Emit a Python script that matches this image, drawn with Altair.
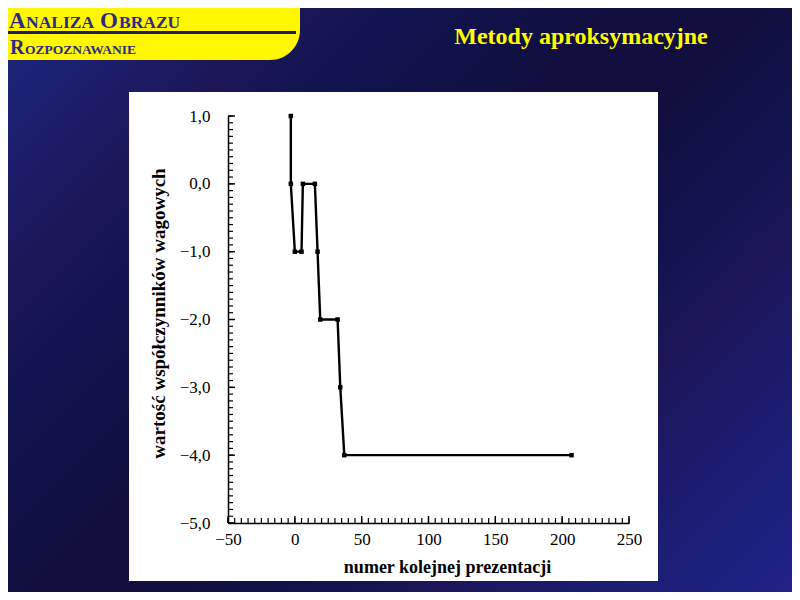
import altair as alt
import pandas as pd

# ---- data ----
x_vals = [-3, -3, 0, 5, 6, 15, 17, 19, 32, 34, 37, 207]
y_vals = [1.0, 0.0, -1.0, -1.0, 0.0, 0.0, -1.0, -2.0, -2.0, -3.0, -4.0, -4.0]
x_label_values = [-50, 0, 50, 100, 150, 200, 250]
y_label_values = [1, 0, -1, -2, -3, -4, -5]
x_minor_ticks = list(range(-50, 251, 5))
y_minor_ticks = [v / 10 for v in range(-50, 11)]

slide_title = "Metody aproksymacyjne"
x_title = "numer kolejnej prezentacji"
y_title = "wartość współczynników wagowych"

df = pd.DataFrame({"x": x_vals, "y": y_vals, "i": list(range(len(x_vals)))})
xt_df = pd.DataFrame({"x": x_minor_ticks})
xT_df = pd.DataFrame({"x": x_label_values})
yt_df = pd.DataFrame({"y": y_minor_ticks})
yT_df = pd.DataFrame({"y": y_label_values})

# ---- layout (page pixels) ----
OX, OY = 228, 116          # plot origin on the page
W, H = 401, 407
PAD = {"left": OX - 8, "top": OY - 8, "right": 784 - (OX - 8) - W, "bottom": 584 - (OY - 8) - H}
SERIF = "Liberation Serif"
NAVY_TXT = "#2b2b85"

one = alt.Data(values=[{"a": 1}])
xs = alt.Scale(domain=[-50, 250], nice=False, zero=False)
ys = alt.Scale(domain=[-5, 1], nice=False, zero=False)


def rect(x1, x2, y1, y2, **kw):
    return alt.Chart(one).mark_rect(**kw).encode(
        x=alt.value(x1 - OX), x2=alt.value(x2 - OX),
        y=alt.value(y1 - OY), y2=alt.value(y2 - OY))


def text(t, px, py, size, color, align="left"):
    return alt.Chart(one).mark_text(
        text=t, font=SERIF, fontSize=size, fontWeight="bold", color=color,
        align=align, baseline="alphabetic").encode(
        x=alt.value(px - OX), y=alt.value(py - OY))


grad = alt.Gradient(
    gradient="linear", x1=0, y1=0, x2=1.12, y2=0.84,
    stops=[
        alt.GradientStop(offset=0.0, color="#1b2a80"),
        alt.GradientStop(offset=0.1, color="#1c2070"),
        alt.GradientStop(offset=0.21, color="#1c1658"),
        alt.GradientStop(offset=0.3, color="#111350"),
        alt.GradientStop(offset=0.45, color="#120f3e"),
        alt.GradientStop(offset=0.55, color="#120f3e"),
        alt.GradientStop(offset=0.65, color="#11134f"),
        alt.GradientStop(offset=0.73, color="#1c1658"),
        alt.GradientStop(offset=0.87, color="#1c1e75"),
        alt.GradientStop(offset=0.95, color="#1c2182"),
        alt.GradientStop(offset=1.0, color="#2a2088"),
    ])

bg = rect(0, 800, 0, 600, fill=grad)
banner = rect(0, 300, 0, 60, fill="#fff600", cornerRadiusBottomRight=55)
banner_line = rect(0, 296, 31, 34, fill="#1c1c6c")
white_box = rect(129, 658, 92, 581, fill="white")

texts = [
    text("A", 9, 28, 23, NAVY_TXT),
    text("NALIZA", 26, 28, 17.5, NAVY_TXT),
    text("O", 100, 28, 23, NAVY_TXT),
    text("BRAZU", 119, 28, 17.5, NAVY_TXT),
    text("R", 10, 54, 20, NAVY_TXT),
    text("OZPOZNAWANIE", 25, 54, 13.5, NAVY_TXT),
    text(slide_title, 581, 44, 24, "#ffff00", align="center"),
]

x_axis = alt.Axis(
    values=x_label_values, ticks=False, grid=False, zindex=1,
    domainColor="black", domainWidth=1.5, labelFlush=False,
    labelFont=SERIF, labelFontSize=17, labelColor="black", labelPadding=8,
    labelExpr="replace(format(datum.value, 'd'), '-', '\u2212')",
    title=x_title, titleFont=SERIF, titleFontSize=18, titleFontWeight="bold",
    titleColor="black", titleX=219, titleY=44, titleBaseline="middle",
    titleAlign="center")
y_axis = alt.Axis(
    values=y_label_values, ticks=False, grid=False, zindex=1,
    domainColor="black", domainWidth=1.5, labelFlush=False,
    labelFont=SERIF, labelFontSize=17, labelColor="black", labelPadding=18,
    labelExpr="replace(format(datum.value, '.1f'), '.', ',')",
    title=y_title, titleFont=SERIF, titleFontSize=19, titleFontWeight="bold",
    titleColor="black", titleX=-70, titleY=197, titleAngle=-90,
    titleBaseline="middle", titleAlign="center")

# manual inward ticks (share the same axis definition so the axes merge)
x_minor = alt.Chart(xt_df).mark_rule(color="black", strokeWidth=1.2).encode(
    x=alt.X("x:Q", scale=xs, axis=x_axis), y=alt.value(H), y2=alt.value(H - 5))
x_major = alt.Chart(xT_df).mark_rule(color="black", strokeWidth=1.4).encode(
    x=alt.X("x:Q", scale=xs, axis=x_axis), y=alt.value(H), y2=alt.value(H - 7))
y_minor = alt.Chart(yt_df).mark_rule(color="black", strokeWidth=1.2).encode(
    y=alt.Y("y:Q", scale=ys, axis=y_axis), x=alt.value(0), x2=alt.value(5))
y_major = alt.Chart(yT_df).mark_rule(color="black", strokeWidth=1.4).encode(
    y=alt.Y("y:Q", scale=ys, axis=y_axis), x=alt.value(0), x2=alt.value(7))

line = alt.Chart(df).mark_line(
    color="black", strokeWidth=2.4,
    point=alt.OverlayMarkDef(shape="square", size=20, filled=True, color="black"),
).encode(
    x=alt.X("x:Q", scale=xs, axis=x_axis),
    y=alt.Y("y:Q", scale=ys, axis=y_axis),
    order=alt.Order("i:Q"),
)

chart = alt.layer(
    bg, banner, banner_line, *texts, white_box,
    x_minor, x_major, y_minor, y_major, line,
).properties(
    width=W, height=H, padding=PAD,
    autosize=alt.AutoSizeParams(type="none"),
    background="#15144a",
).configure_view(stroke=None)

chart.save("out.html", embed_options={"renderer": "svg", "actions": False})
